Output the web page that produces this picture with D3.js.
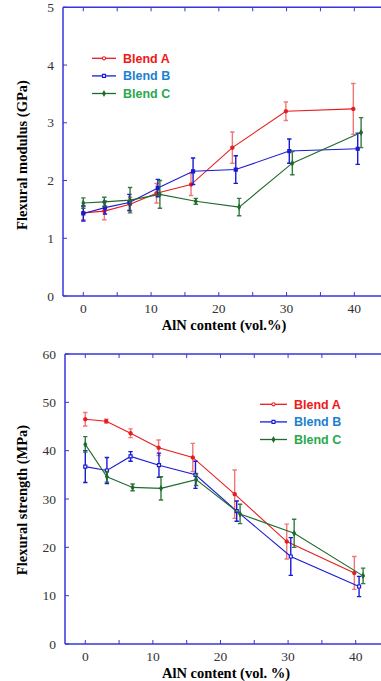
<!DOCTYPE html>
<html>
<head>
<meta charset="utf-8">
<script src="https://cdn.jsdelivr.net/npm/d3@7"></script>
<style>
  body { margin: 0; background: #fff; }
  svg { display: block; }
</style>
</head>
<body>
<script>
// --- données : module de flexion (GPa) ---
const blends = ["Blend A", "Blend B", "Blend C"];

const modA_x = [0, 3.1, 6.9, 10.8, 15.9, 22.0, 29.9, 39.85];
const modA_y = [1.44, 1.47, 1.59, 1.78, 1.93, 2.57, 3.20, 3.24];
const modA_e = [0.12, 0.15, 0.12, 0.17, 0.19, 0.27, 0.16, 0.44];

const modB_x = [0, 3.2, 6.8, 11.0, 16.2, 22.5, 30.4, 40.5];
const modB_y = [1.43, 1.53, 1.62, 1.87, 2.16, 2.19, 2.51, 2.55];
const modB_e = [0.13, 0.11, 0.14, 0.15, 0.23, 0.24, 0.21, 0.27];

const modC_x = [0, 3.1, 6.9, 11.3, 16.6, 23.0, 30.85, 41.0];
const modC_y = [1.61, 1.63, 1.66, 1.76, 1.64, 1.54, 2.30, 2.83];
const modC_e = [0.09, 0.08, 0.22, 0.24, 0.05, 0.15, 0.20, 0.26];

// --- données : résistance en flexion (MPa) ---
const strA_x = [0, 3.1, 6.7, 10.85, 15.9, 22.1, 29.8, 39.8];
const strA_y = [46.5, 46.1, 43.6, 40.6, 38.6, 31.0, 21.2, 14.7];
const strA_e = [1.4, 0.4, 0.9, 1.6, 2.9, 5.0, 3.6, 3.4];

const strB_x = [0, 3.2, 6.7, 10.9, 16.3, 22.4, 30.4, 40.5];
const strB_y = [36.7, 35.9, 38.8, 37.0, 35.0, 27.5, 18.1, 11.9];
const strB_e = [3.3, 2.7, 1.0, 2.5, 2.8, 2.1, 3.9, 2.1];

const strC_x = [0, 3.2, 7.0, 11.2, 16.4, 22.9, 30.9, 41.1];
const strC_y = [41.3, 34.6, 32.4, 32.2, 34.0, 26.9, 22.9, 14.1];
const strC_e = [1.6, 1.1, 0.7, 2.4, 1.2, 2.0, 2.9, 1.6];

const xTicks = [0, 10, 20, 30, 40];
const xMinor = [5, 15, 25, 35];
const modTicks = [0, 1, 2, 3, 4, 5];
const strTicks = [0, 10, 20, 30, 40, 50, 60];

const lineColors = ["#e81c1c", "#1a1ad6", "#1e6b2c"];
const textColors = ["#f01818", "#2080d0", "#2aa84c"];
const barOpacity = [0.6, 1, 0.9];
const symbols = [d3.symbolCircle, d3.symbolSquare, d3.symbolDiamond];
const symSizes = [8, 9, 6];

const svg = d3.select("body").append("svg")
    .attr("width", 381)
    .attr("height", 681);

function zip(xs, ys, es) {
    return xs.map((x, i) => ({ x: x, y: ys[i], e: es[i] }));
}

function drawPanel(opt) {
    const x = d3.scaleLinear().domain([-3, 45]).range([opt.left, opt.left + 48 * opt.kx]);
    const y = d3.scaleLinear().domain([0, opt.ymax]).range([opt.bottom, opt.top]);
    const g = svg.append("g");
    const axisCol = "#3535e0";

    // cadre (gauche, haut, bas) - la droite sort de l'image
    g.append("line").attr("x1", opt.left).attr("x2", 400).attr("y1", opt.top).attr("y2", opt.top)
        .attr("stroke", axisCol).attr("stroke-width", 1.5);
    g.append("line").attr("x1", opt.left).attr("x2", 400).attr("y1", opt.bottom).attr("y2", opt.bottom)
        .attr("stroke", axisCol).attr("stroke-width", 1.5);
    g.append("line").attr("x1", opt.left).attr("x2", opt.left).attr("y1", opt.top).attr("y2", opt.bottom)
        .attr("stroke", axisCol).attr("stroke-width", 1.5);

    // graduations x (vers l'intérieur, en haut et en bas)
    const allX = xTicks.concat(xMinor);
    g.selectAll(".xtb").data(allX).join("line")
        .attr("x1", d => x(d)).attr("x2", d => x(d))
        .attr("y1", opt.bottom).attr("y2", opt.bottom - 4)
        .attr("stroke", axisCol);
    g.selectAll(".xtt").data(allX).join("line")
        .attr("x1", d => x(d)).attr("x2", d => x(d))
        .attr("y1", opt.top).attr("y2", opt.top + 4)
        .attr("stroke", axisCol);
    g.selectAll(".ytl").data(opt.yTicks).join("line")
        .attr("x1", opt.left).attr("x2", opt.left + 4)
        .attr("y1", d => y(d)).attr("y2", d => y(d))
        .attr("stroke", axisCol);

    // étiquettes
    g.selectAll(".xl").data(xTicks).join("text")
        .attr("x", d => x(d)).attr("y", opt.bottom + 17)
        .attr("text-anchor", "middle")
        .style("font-family", "'Liberation Serif', 'Times New Roman', serif")
        .style("font-size", "13.5px").style("fill", "#333")
        .text(d => d);
    g.selectAll(".yl").data(opt.yTicks).join("text")
        .attr("x", opt.left - 9).attr("y", d => y(d) + 4.5)
        .attr("text-anchor", "end")
        .style("font-family", "'Liberation Serif', 'Times New Roman', serif")
        .style("font-size", "13.5px").style("fill", "#333")
        .text(d => d);

    g.append("text")
        .attr("x", opt.xTitleX).attr("y", opt.bottom + 34)
        .attr("text-anchor", "middle")
        .style("font-family", "'Liberation Serif', 'Times New Roman', serif")
        .style("font-size", "14.5px").style("font-weight", "bold")
        .text(opt.xTitle);
    g.append("text")
        .attr("transform", `translate(27,${opt.yTitleY}) rotate(-90)`)
        .attr("text-anchor", "middle")
        .style("font-family", "'Liberation Serif', 'Times New Roman', serif")
        .style("font-size", "14.5px").style("font-weight", "bold")
        .text(opt.yTitle);

    const line = d3.line().x(d => x(d.x)).y(d => y(d.y));

    opt.series.forEach((s, i) => {
        const sg = g.append("g");
        // barres d'erreur
        sg.selectAll(".eb").data(s).join("path")
            .attr("d", d => {
                const cx = x(d.x), y1 = y(d.y + d.e), y2 = y(d.y - d.e);
                return `M${cx},${y1}V${y2}M${cx - 2.2},${y1}H${cx + 2.2}M${cx - 2.2},${y2}H${cx + 2.2}`;
            })
            .attr("fill", "none")
            .attr("stroke", lineColors[i])
            .attr("stroke-opacity", barOpacity[i])
            .attr("stroke-width", 1.4);
        sg.append("path").datum(s)
            .attr("d", line)
            .attr("fill", "none")
            .attr("stroke", lineColors[i])
            .attr("stroke-width", 1.1);
        const hollow = i === 1 && opt.hollowB;
        sg.selectAll(".pt").data(s).join("path")
            .attr("transform", d => `translate(${x(d.x)},${y(d.y)})`)
            .attr("d", d3.symbol().type(symbols[i]).size(symSizes[i]))
            .attr("fill", hollow ? "#fff" : lineColors[i])
            .attr("stroke", lineColors[i])
            .attr("stroke-width", 1.2);
    });

    // légende
    blends.forEach((b, i) => {
        const ly = opt.legY + i * 17.6;
        g.append("line")
            .attr("x1", opt.legX).attr("x2", opt.legX + opt.legLen)
            .attr("y1", ly).attr("y2", ly)
            .attr("stroke", lineColors[i]).attr("stroke-width", 1.3);
        g.append("path")
            .attr("transform", `translate(${opt.legX + opt.legLen / 2},${ly})`)
            .attr("d", d3.symbol().type(symbols[i]).size(symSizes[i]))
            .attr("fill", i === 2 ? lineColors[i] : "#fff")
            .attr("stroke", lineColors[i]).attr("stroke-width", 1.1);
        g.append("text")
            .attr("x", opt.legX + opt.legLen + 7).attr("y", ly + 4.5)
            .style("font-family", "'Liberation Sans', Arial, sans-serif")
            .style("font-size", "12.5px").style("font-weight", "bold")
            .style("fill", textColors[i])
            .text(b);
    });
}

drawPanel({
    left: 63, top: 7.3, bottom: 296, kx: 6.775, ymax: 5,
    yTicks: modTicks, hollowB: false,
    series: [zip(modA_x, modA_y, modA_e), zip(modB_x, modB_y, modB_e), zip(modC_x, modC_y, modC_e)],
    xTitle: "AlN content (vol.%)", xTitleX: 224,
    yTitle: "Flexural modulus (GPa)", yTitleY: 155,
    legX: 92, legLen: 24, legY: 58.3
});

drawPanel({
    left: 65, top: 354, bottom: 644, kx: 6.76, ymax: 60,
    yTicks: strTicks, hollowB: true,
    series: [zip(strA_x, strA_y, strA_e), zip(strB_x, strB_y, strB_e), zip(strC_x, strC_y, strC_e)],
    xTitle: "AlN content (vol. %)", xTitleX: 226,
    yTitle: "Flexural strength (MPa)", yTitleY: 500,
    legX: 260, legLen: 27, legY: 404.3
});
</script>
</body>
</html>
